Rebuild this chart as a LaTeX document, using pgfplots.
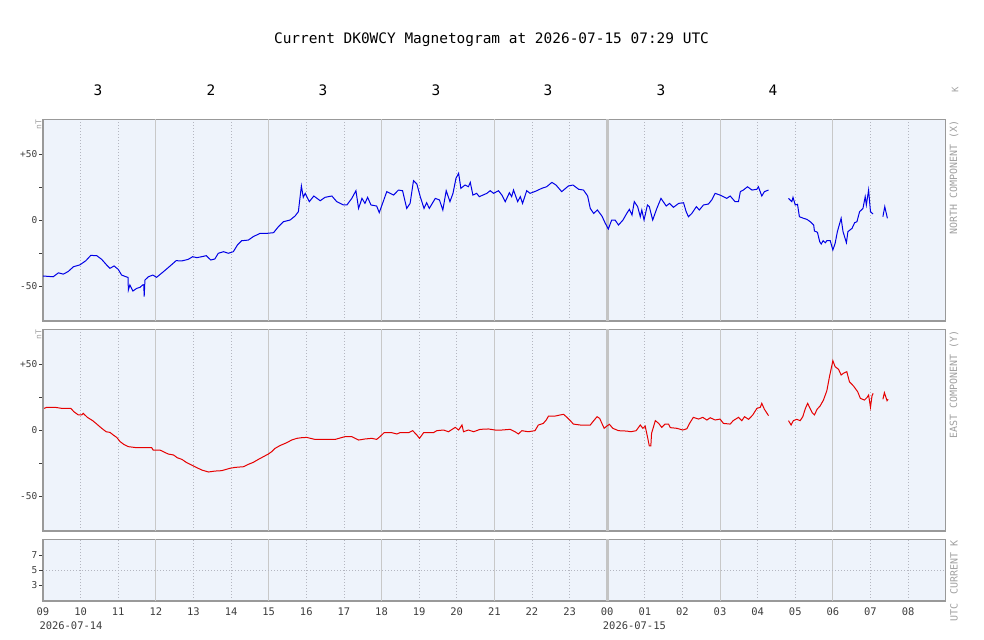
\documentclass[border=0pt]{standalone}
\usepackage{fontspec}
\setmainfont{DejaVu Sans Mono}
\usepackage{pgfplots}
\pgfplotsset{compat=1.18}
\definecolor{bgc}{RGB}{238,243,251}
\definecolor{bordc}{RGB}{153,153,153}
\definecolor{grids}{RGB}{200,200,200}
\definecolor{gridd}{RGB}{180,182,192}
\definecolor{thickc}{RGB}{196,196,196}
\definecolor{tickc}{RGB}{60,60,60}
\definecolor{labc}{RGB}{160,160,160}
\definecolor{xblue}{RGB}{0,0,230}
\definecolor{yred}{RGB}{230,0,0}
\pgfplotsset{
 panel/.style={
  scale only axis, width=902.7bp, xmin=0, xmax=24,
  axis background/.style={fill=bgc},
  axis line style={draw=bordc, line width=1.2bp},
  tick align=outside, major tick length=4bp,
  xtick={0,...,23}, xtick style={draw=none},
  xticklabels={},
  minor xtick={1,2,4,5,7,8,10,11,13,14,16,17,19,20,22,23},
  minor tick length=0pt,
  xminorgrids=true,
  minor grid style={draw=gridd, line width=0.8bp, dash pattern=on 1bp off 2bp},
  extra x ticks={3,6,9,12,18,21},
  extra x tick labels={},
  extra x tick style={xmajorgrids=true, major tick length=0pt, major grid style={draw=grids, line width=1bp}},
  ytick pos=left,
  ytick style={draw=tickc, line width=0.8bp},
  yticklabel style={font=\fontsize{9.5}{11}\selectfont, text=tickc, inner sep=1.5bp},
  unbounded coords=jump,
 },
 comp/.style={panel, height=201.7bp, ymin=-76.5, ymax=76.3,
  ytick={-50,-25,0,25,50}, yticklabels={-50,,0,,+50}},
}
\begin{document}
\begin{tikzpicture}
\path[use as bounding box] (0bp,0bp) rectangle (984bp,640bp);
% title and K indices
\node[font=\fontsize{14.5}{16}\selectfont] at (491.5bp,600bp) {Current DK0WCY Magnetogram at 2026-07-15 07:29 UTC};
\foreach \xx/\kk in {98/3,211/2,323/3,436/3,548/3,661/3,773/4}{
  \node[font=\fontsize{14.5}{16}\selectfont] at (\xx bp,550bp) {\kk};
}
\node[font=\fontsize{9}{10}\selectfont, text=labc, rotate=90] at (955bp,550bp) {K};
% North component
\begin{axis}[comp, at={(43bp,319bp)}, anchor=south west]
\draw[line width=3bp, draw=thickc] (rel axis cs:0.625,0) -- (rel axis cs:0.625,1);
\addplot[xblue, line width=1bp] coordinates {
(0,-42.4) (0.27,-43) (0.41,-40) (0.54,-41) (0.67,-39) (0.81,-35.4) (0.98,-34) (1.14,-30.8)
(1.27,-26.8) (1.43,-27) (1.56,-29.8) (1.69,-34) (1.78,-36.6) (1.89,-34.8) (2.0,-37.4) (2.09,-41.7)
(2.21,-43) (2.26,-43.5) (2.27,-53) (2.31,-49.2) (2.39,-53.8) (2.49,-51.8) (2.58,-51) (2.65,-49.2)
(2.68,-49) (2.69,-58) (2.71,-45.5) (2.80,-43) (2.92,-41.7) (3.02,-43.4) (3.2,-39.2) (3.38,-34.8)
(3.54,-30.8) (3.69,-31) (3.86,-29.8) (3.98,-27.8) (4.09,-28.5) (4.22,-27.8) (4.34,-27) (4.46,-30.3)
(4.57,-29.5) (4.66,-25.2) (4.8,-24) (4.93,-25.2) (5.06,-24) (5.17,-18.9) (5.28,-15.7) (5.46,-15.2)
(5.59,-12.6) (5.77,-10.1) (5.95,-10.1) (6.13,-9.6) (6.26,-5) (6.39,-1.3) (6.57,0) (6.70,3)
(6.79,6.3) (6.81,11.4) (6.87,25.8) (6.92,17.2) (6.97,20.2) (7.08,13.9) (7.2,18.2) (7.37,14.6)
(7.5,17.2) (7.68,18.2) (7.81,13.9) (7.99,11.4) (8.08,11.4) (8.21,16.4) (8.32,22.2) (8.39,8.8)
(8.48,16.4) (8.56,12.6) (8.63,17.2) (8.72,11.4) (8.87,10.6) (8.94,5.6) (9.14,21.5) (9.32,18.9)
(9.45,22.7) (9.56,22.2) (9.67,8.8) (9.76,12.6) (9.85,29.8) (9.94,27.3) (10.03,17.7) (10.13,8.8)
(10.2,13.1) (10.27,8.8) (10.43,16.4) (10.54,15.2) (10.63,7.6) (10.72,22.2) (10.82,13.9) (10.9,20.2)
(10.98,31.6) (11.05,35.4) (11.11,24) (11.22,26.5) (11.31,25.2) (11.36,28.5) (11.43,18.9) (11.53,20.2)
(11.6,17.7) (11.8,20.2) (11.89,22.2) (11.98,20.2) (12.11,22.2) (12.2,18.9) (12.29,13.9) (12.4,20.7)
(12.46,17.7) (12.51,22.7) (12.62,13.9) (12.69,17.7) (12.75,12.6) (12.86,22.2) (12.95,20.2) (13.13,22.2)
(13.26,24) (13.39,25.2) (13.53,28.5) (13.64,26.5) (13.79,21.5) (13.97,25.8) (14.09,26.5) (14.24,23.3)
(14.37,22.7) (14.48,18.2) (14.55,8.8) (14.64,5) (14.74,7.6) (14.86,3) (14.95,-2.5) (15.03,-6.8)
(15.12,0) (15.21,0) (15.30,-3.8) (15.42,0) (15.52,5) (15.59,8.1) (15.66,3.8) (15.72,13.9)
(15.81,10.1) (15.88,2.5) (15.92,7.6) (15.98,0) (16.07,11.4) (16.12,10.1) (16.21,0) (16.32,8.8)
(16.43,16.4) (16.57,10.6) (16.66,12.6) (16.76,9.6) (16.9,12.6) (17.03,13.1) (17.1,6.3) (17.16,2.5)
(17.25,5) (17.37,10.1) (17.45,7.6) (17.56,11.4) (17.69,12.1) (17.78,15.2) (17.87,20.2) (18.0,18.9)
(18.09,17.7) (18.18,16.4) (18.27,18.2) (18.40,13.9) (18.49,13.9) (18.54,21.5) (18.62,22.7) (18.73,25.2)
(18.85,22.7) (18.98,23.3) (19.02,25.2) (19.11,18.2) (19.18,21.5) (19.29,22.7)
(19.5,nan)
(19.82,16.4) (19.91,13.9) (19.94,17.2) (20.0,11.4) (20.06,11.9) (20.11,2.5) (20.22,1.3) (20.31,0.5)
(20.40,-1.3) (20.49,-3.8) (20.51,-8.3) (20.59,-9.3) (20.65,-16.4) (20.69,-18.2) (20.74,-15.7) (20.80,-17.2)
(20.84,-15.7) (20.93,-15.7) (21.0,-22.7) (21.06,-17.7) (21.12,-8.8) (21.22,1.3) (21.27,-8.8) (21.36,-17.2)
(21.40,-8.8) (21.51,-6.3) (21.58,-2) (21.64,-1.3) (21.71,6.3) (21.80,8.8) (21.86,17.7) (21.89,11.4)
(21.95,22.7) (22.0,6.3) (22.07,4.5)
(22.2,nan)
(22.33,2.5) (22.38,10.1) (22.45,1.3)
};
\end{axis}
% East component
\begin{axis}[comp, at={(43bp,109bp)}, anchor=south west]
\draw[line width=3bp, draw=thickc] (rel axis cs:0.625,0) -- (rel axis cs:0.625,1);
\addplot[yred, line width=1bp] coordinates {
(0.03,16.4) (0.1,17.2) (0.32,17.2) (0.5,16.4) (0.74,16.4) (0.82,13.9) (0.94,11.4) (1.03,11.4)
(1.07,12.6) (1.18,9.6) (1.32,7.1) (1.43,4.5) (1.56,1.3) (1.68,-1.3) (1.78,-1.8) (1.87,-3.8)
(1.96,-5.6) (2.05,-8.8) (2.15,-10.9) (2.27,-12.6) (2.49,-13.4) (2.89,-13.4) (2.93,-15.2) (3.11,-15.2)
(3.2,-16.4) (3.33,-18.2) (3.47,-18.9) (3.57,-21) (3.69,-22.2) (3.82,-24.7) (3.95,-26.5) (4.09,-28.5)
(4.22,-30.3) (4.40,-31.8) (4.57,-31.1) (4.75,-30.8) (4.97,-29) (5.11,-28.3) (5.33,-27.8) (5.46,-26)
(5.59,-24.5) (5.73,-22.2) (5.86,-20.2) (5.99,-18.2) (6.08,-16.4) (6.17,-13.9) (6.30,-11.8) (6.48,-9.6)
(6.61,-7.6) (6.75,-6.3) (6.88,-5.8) (7.01,-5.6) (7.23,-7.1) (7.5,-7.1) (7.77,-7.1) (8.03,-5)
(8.21,-5) (8.39,-7.6) (8.56,-6.8) (8.74,-6.3) (8.87,-7.1) (8.96,-5) (9.07,-2) (9.27,-2)
(9.41,-3) (9.49,-2) (9.72,-2) (9.83,-0.5) (9.94,-3.8) (10.01,-6.3) (10.12,-2) (10.38,-2)
(10.47,-0.5) (10.65,0) (10.78,-1.3) (10.96,2) (11.05,0) (11.14,3.8) (11.18,-1.3) (11.31,0)
(11.45,-1.3) (11.62,0.5) (11.84,0.8) (12.02,0) (12.2,0) (12.42,0.5) (12.55,-1.3) (12.64,-3)
(12.73,-0.5) (12.9,-1.3) (13.08,-0.5) (13.17,3.8) (13.30,5) (13.38,7.6) (13.44,10.6) (13.62,10.6)
(13.75,11.4) (13.84,11.9) (13.93,9.6) (14.02,7.1) (14.10,4.5) (14.28,3.8) (14.55,3.8) (14.62,6.3)
(14.73,10.1) (14.80,8.8) (14.86,5) (14.92,1.3) (14.99,3) (15.06,4.3) (15.15,1.3) (15.30,-0.5)
(15.52,-0.8) (15.63,-1.3) (15.77,-0.5) (15.88,3.8) (15.95,1.3) (16.01,3) (16.07,-5) (16.12,-12.1)
(16.16,-12.1) (16.18,-2.5) (16.28,7.1) (16.37,5) (16.45,2) (16.54,4.5) (16.63,4.5) (16.68,1.8)
(16.85,1.3) (17.01,0) (17.12,1) (17.19,5) (17.29,9.6) (17.43,8.3) (17.54,9.6) (17.65,7.6)
(17.74,9.3) (17.87,7.6) (18.0,8.3) (18.09,5) (18.27,4.5) (18.35,7.1) (18.49,9.6) (18.58,7.1)
(18.65,10.1) (18.76,8.1) (18.87,11.4) (18.98,16.4) (19.07,17.2) (19.11,20.2) (19.18,15.7) (19.29,10.9)
(19.5,nan)
(19.82,7.1) (19.89,3.8) (19.95,7.1) (20.04,8.1) (20.13,7.1) (20.20,10.1) (20.27,16.4) (20.33,20.2)
(20.38,17.2) (20.45,13.1) (20.51,11.4) (20.58,15.7) (20.66,18.2) (20.75,22.7) (20.84,29.8) (20.91,40.4)
(21.0,52.5) (21.06,48) (21.15,46) (21.22,41.7) (21.28,43) (21.37,44.2) (21.44,36.6) (21.55,33.3)
(21.66,29) (21.73,24) (21.84,22.7) (21.91,24.7) (21.95,26.5) (22.0,17.2) (22.04,25.8) (22.07,27.8)
(22.2,nan)
(22.33,23.3) (22.37,28.3) (22.44,22.2) (22.47,23.3)
};
\end{axis}
% Current K
\begin{axis}[panel, at={(43bp,39bp)}, anchor=south west, height=61.7bp,
  ymin=0.87, ymax=9.09, ytick={3,5,7}, yticklabels={3,5,7},
  extra y ticks={5}, extra y tick labels={},
  extra y tick style={ymajorgrids=true, major grid style={draw=gridd, line width=0.8bp, dash pattern=on 1bp off 2bp}},
  xticklabels={09,10,11,12,13,14,15,16,17,18,19,20,21,22,23,00,01,02,03,04,05,06,07,08},
  xticklabel style={font=\fontsize{10.5}{12}\selectfont, text=tickc, inner sep=1bp, yshift=-2bp},
]
\draw[line width=3bp, draw=thickc] (rel axis cs:0.625,0) -- (rel axis cs:0.625,1);
\end{axis}
% date labels
\node[font=\fontsize{10.5}{12}\selectfont, text=tickc, anchor=west, inner sep=0pt] at (39.3bp,14bp) {2026-07-14};
\node[font=\fontsize{10.5}{12}\selectfont, text=tickc, anchor=west, inner sep=0pt] at (602.7bp,14bp) {2026-07-15};
% nT labels
\node[font=\fontsize{8}{9}\selectfont, text=labc, rotate=90, anchor=east, inner sep=0pt] at (38.5bp,520bp) {nT};
\node[font=\fontsize{8}{9}\selectfont, text=labc, rotate=90, anchor=east, inner sep=0pt] at (38.5bp,310bp) {nT};
% right labels
\node[font=\fontsize{10}{11}\selectfont, text=labc, rotate=90, anchor=east, inner sep=0pt] at (954bp,520bp) {NORTH COMPONENT (X)};
\node[font=\fontsize{10}{11}\selectfont, text=labc, rotate=90, anchor=east, inner sep=0pt] at (954bp,310bp) {EAST COMPONENT (Y)};
\node[font=\fontsize{10}{11}\selectfont, text=labc, rotate=90, anchor=east, inner sep=0pt] at (954bp,100bp) {CURRENT K};
\node[font=\fontsize{10}{11}\selectfont, text=labc, rotate=90, anchor=east, inner sep=0pt] at (954bp,37bp) {UTC};
\end{tikzpicture}
\end{document}
